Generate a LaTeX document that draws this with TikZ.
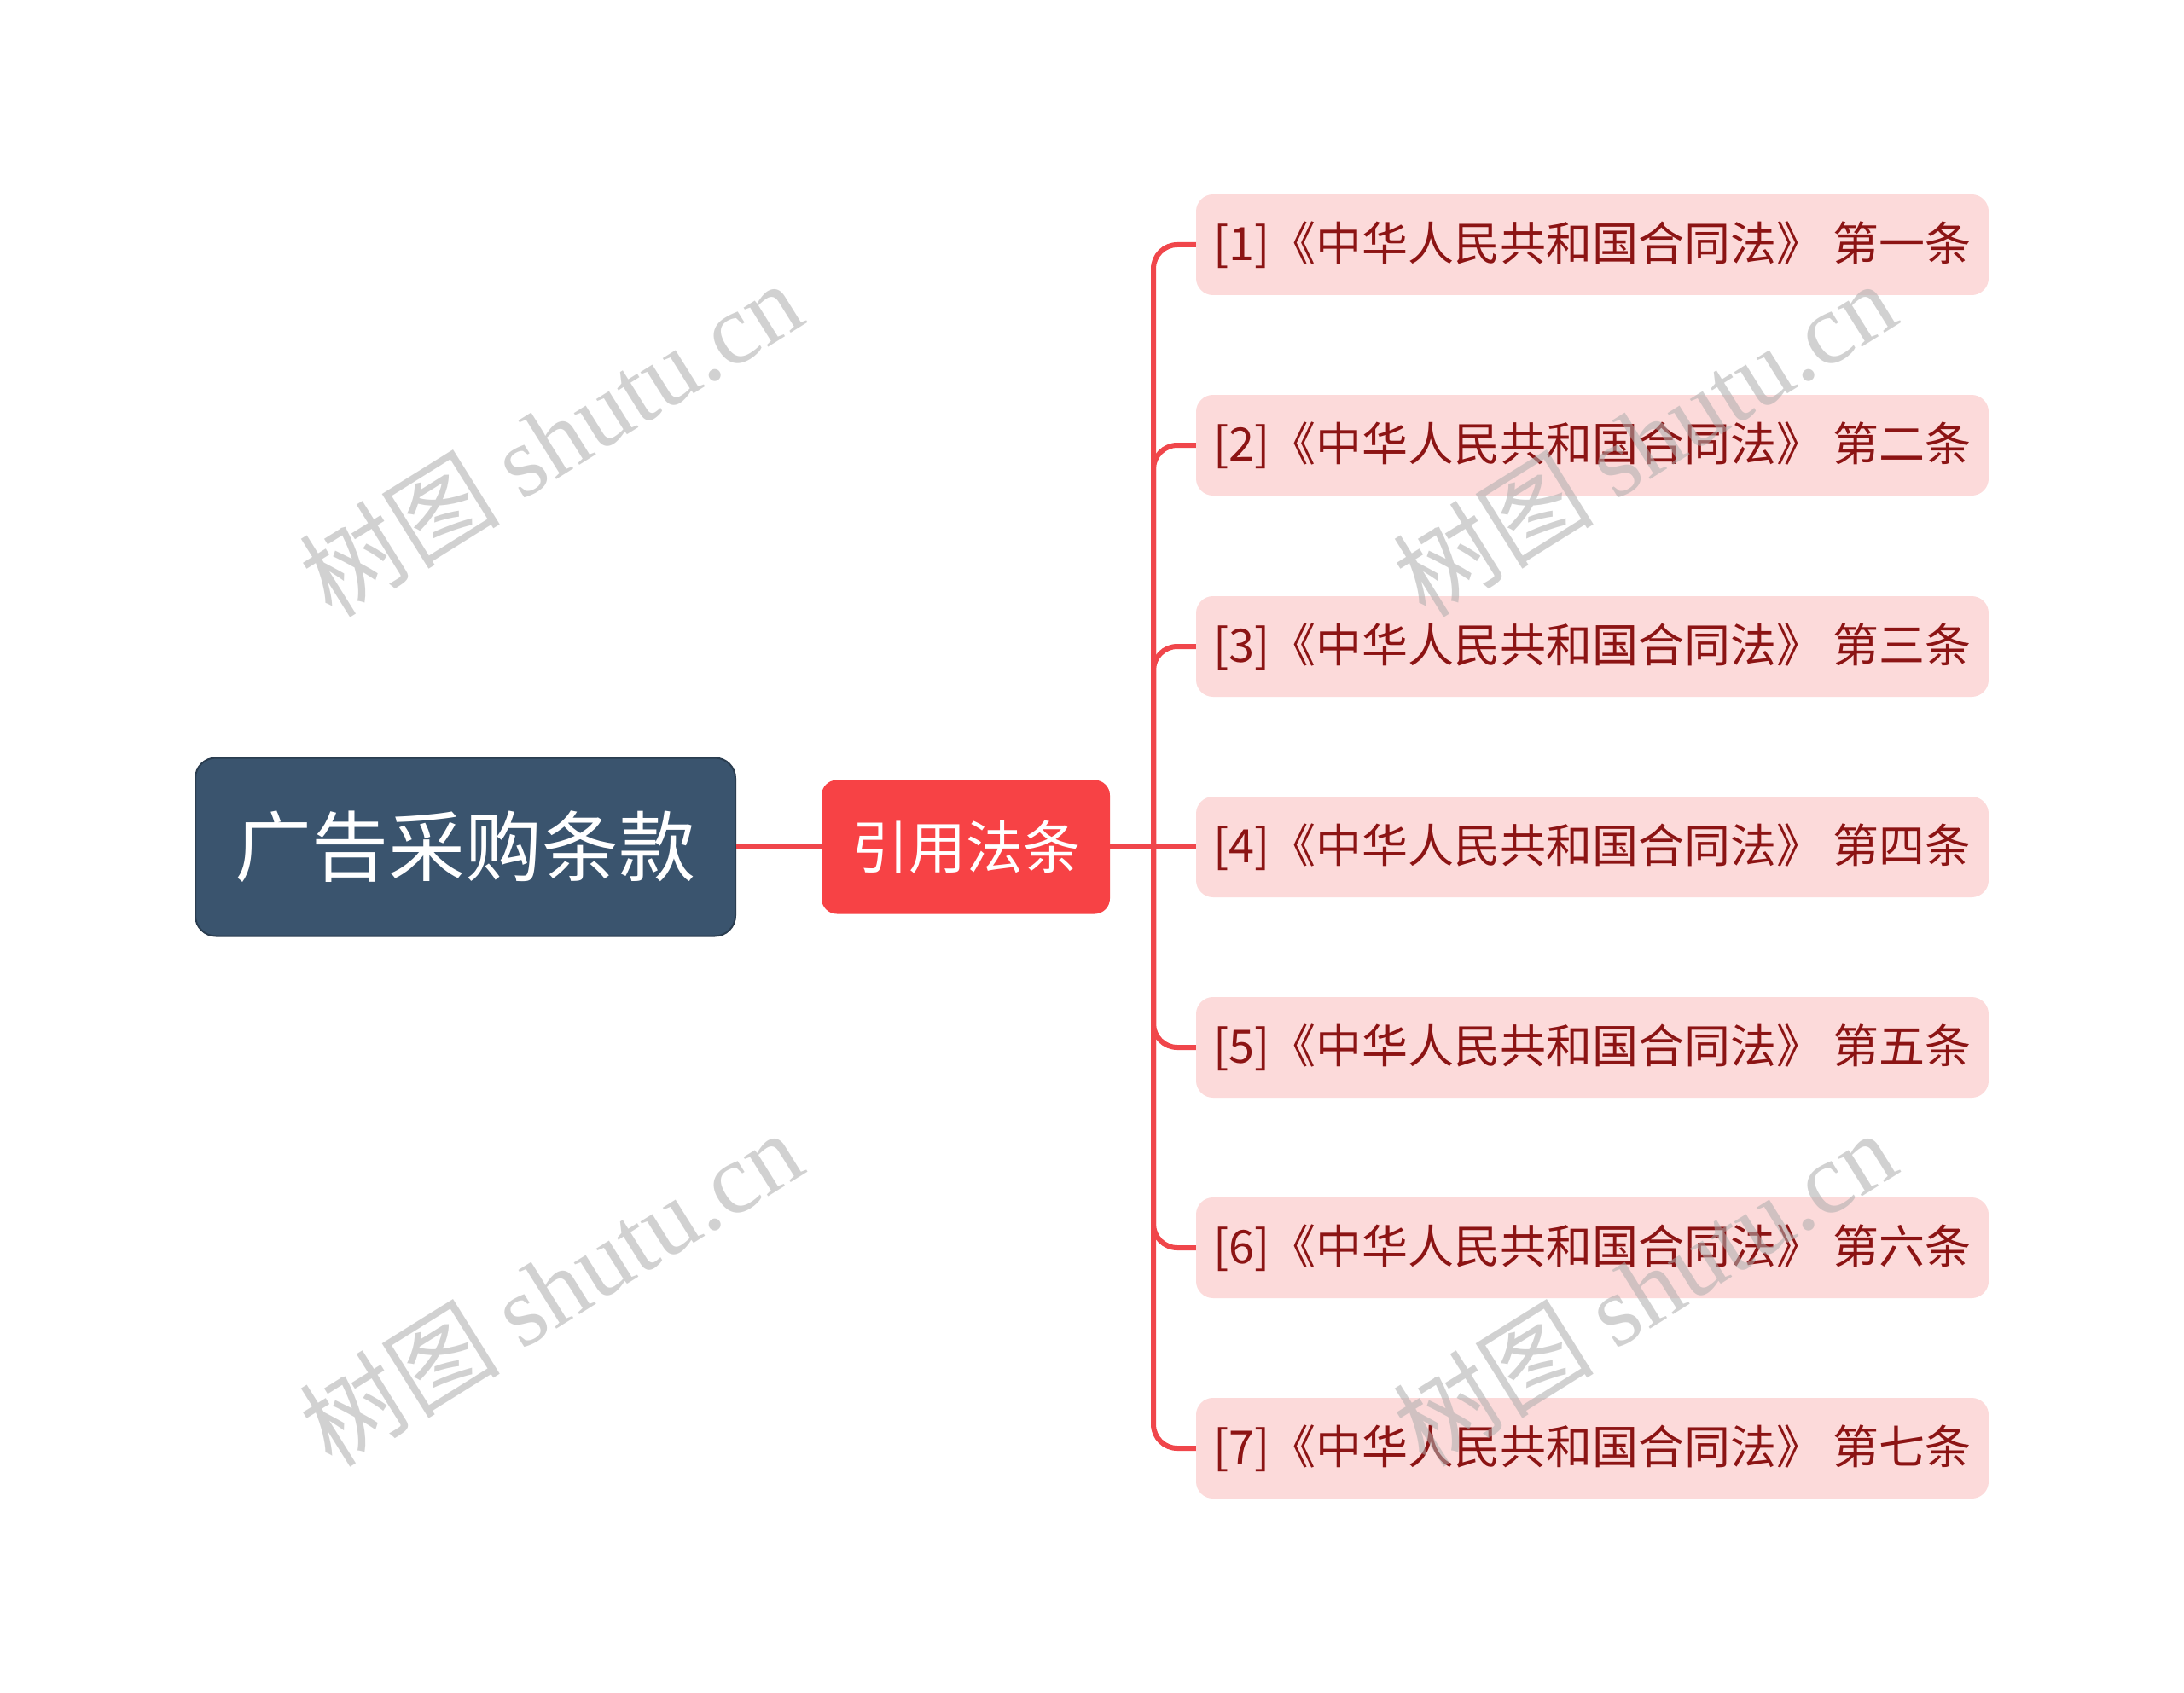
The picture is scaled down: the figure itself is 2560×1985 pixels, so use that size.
\documentclass[tikz,border=0pt]{standalone}
\usepackage{fontspec}
\setmainfont{Noto Sans CJK SC}
\newfontfamily\cjk{Noto Sans CJK SC}
\newfontfamily\wmlatin{Liberation Serif}
\definecolor{rootfill}{HTML}{3A546E}
\definecolor{rootdraw}{HTML}{2A3D50}
\definecolor{midfill}{HTML}{F74245}
\definecolor{leaffill}{HTML}{FCDADA}
\definecolor{leaftext}{HTML}{8C1414}
\definecolor{linecol}{HTML}{F0464B}
\definecolor{wmcol}{HTML}{ADADAD}
\begin{document}
\begin{tikzpicture}[x=1pt,y=-1pt,
  rootbox/.style={draw=rootdraw, line width=2pt, fill=rootfill, rounded corners=24pt,
    minimum width=633pt, minimum height=209pt, inner sep=0pt, text=white,
    font=\cjk\fontsize{90}{100}\selectfont},
  midbox/.style={fill=midfill, rounded corners=18pt, minimum width=338pt, minimum height=157pt,
    inner sep=0pt, text=white, font=\cjk\fontsize{67}{76}\selectfont},
  leafbox/.style={fill=leaffill, rounded corners=20pt, minimum width=929pt, minimum height=118pt,
    inner sep=0pt, text=leaftext, font=\cjk\fontsize{54}{62}\selectfont},
  conn/.style={draw=linecol, line width=6pt, rounded corners=28pt},
  wm/.style={text=wmcol, text opacity=0.55, rotate=32, inner sep=0pt, font=\fontsize{118}{126}\selectfont}
]
\useasboundingbox (0,0) rectangle (2560,1985);
\fill[white] (0,0) rectangle (2560,1985);

\node[rootbox] (root) at (545.5,993) {广告采购条款};
\node[midbox] (mid) at (1132,993) {引用法条};

\coordinate (trunk) at (1352,993);

\node[leafbox] (l1) at (1866.5,287) {[1]《中华人民共和国合同法》 第一条};
\node[leafbox] (l2) at (1866.5,522) {[2]《中华人民共和国合同法》 第二条};
\node[leafbox] (l3) at (1866.5,758) {[3]《中华人民共和国合同法》 第三条};
\node[leafbox] (l4) at (1866.5,993) {[4]《中华人民共和国合同法》 第四条};
\node[leafbox] (l5) at (1866.5,1228) {[5]《中华人民共和国合同法》 第五条};
\node[leafbox] (l6) at (1866.5,1463) {[6]《中华人民共和国合同法》 第六条};
\node[leafbox] (l7) at (1866.5,1698) {[7]《中华人民共和国合同法》 第七条};

\draw[conn] (root.east) -- (mid.west);
\draw[conn] (mid.east) -- (l4.west);
\foreach \i in {1,2,3,5,6,7}{
  \draw[conn] (trunk) |- (l\i.west);
}

% watermarks (on top, translucent)
\node[wm] (wm1) at (645,514) {\cjk 树图 \wmlatin shutu.cn};
\node[wm] (wm2) at (1927,514) {\cjk 树图 \wmlatin shutu.cn};
\node[wm] (wm3) at (645,1510) {\cjk 树图 \wmlatin shutu.cn};
\node[wm] (wm4) at (1927,1510) {\cjk 树图 \wmlatin shutu.cn};
\end{tikzpicture}
\end{document}
